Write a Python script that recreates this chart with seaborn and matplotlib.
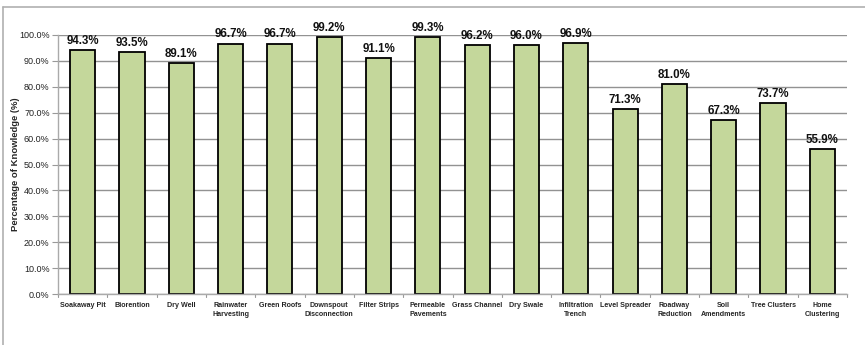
import matplotlib
matplotlib.use("Agg")
import matplotlib.pyplot as plt
import matplotlib.lines as mlines
from matplotlib.ticker import MultipleLocator, FuncFormatter
import seaborn as sns
import pandas as pd

categories = [
    "Soakaway Pit", "Biorention", "Dry Well", "Rainwater\nHarvesting",
    "Green Roofs", "Downspout\nDisconnection", "Filter Strips",
    "Permeable\nPavements", "Grass Channel", "Dry Swale",
    "Infiltration\nTrench", "Level Spreader", "Roadway\nReduction",
    "Soil\nAmendments", "Tree Clusters", "Home\nClustering",
]
knowledge = [94.3, 93.5, 89.1, 96.7, 96.7, 99.2, 91.1, 99.3, 96.2, 96.0,
             96.9, 71.3, 81.0, 67.3, 73.7, 55.9]

df = pd.DataFrame({"practice": categories, "pct": knowledge})

sns.set_theme(style="white")
plt.rcParams["font.family"] = ["Liberation Sans", "DejaVu Sans"]

fig = plt.figure(figsize=(8.65, 3.45), dpi=100)
ax = fig.add_axes([58 / 865, 1 - 294 / 345, (847 - 58) / 865, (294 - 35) / 345])

ax.set_axisbelow(True)
ax.yaxis.grid(True, color="#929292", linewidth=1.0)
ax.xaxis.grid(False)

sns.barplot(data=df, x="practice", y="pct", color="#c4d79b", saturation=1,
            width=0.51, edgecolor="black", linewidth=1.3, ax=ax)

ax.set_ylim(0, 100)
ax.set_xlim(-0.5, len(categories) - 0.5)
ax.yaxis.set_major_locator(MultipleLocator(10))
ax.yaxis.set_major_formatter(FuncFormatter(lambda v, p: f"{v:.1f}%"))
ax.tick_params(axis="y", labelsize=6.5, length=4, width=0.8,
               direction="out", pad=2, left=True,
               colors="#999999", labelcolor="#222222")

# category labels centred under bars, tick marks on slot boundaries
ax.set_xticks(range(len(categories)))
ax.set_xticklabels(categories, fontsize=5.1, fontweight="bold",
                   linespacing=1.3, va="top")
ax.tick_params(axis="x", length=0, pad=6)
for b in range(len(categories) + 1):
    ax.plot([b - 0.5, b - 0.5], [0, -1.3], color="#999999", linewidth=0.8,
            clip_on=False)

for side in ["top", "right"]:
    ax.spines[side].set_visible(False)
for side in ["left", "bottom"]:
    ax.spines[side].set_color("#aaaaaa")
    ax.spines[side].set_linewidth(1.0)

ax.set_xlabel("")
ax.set_ylabel("Percentage of Knowledge (%)", fontsize=6.8, fontweight="bold",
              labelpad=-1)

for i, v in enumerate(knowledge):
    ax.text(i, v + 1.2, f"{v:.1f}%", ha="center", va="bottom",
            fontsize=8.3, fontweight="bold", color="#111111")

# chart frame
fig.add_artist(mlines.Line2D([3 / 865, 3 / 865], [0, 1 - 7 / 345],
                             color="#b0b0b0", linewidth=1.2,
                             transform=fig.transFigure))
fig.add_artist(mlines.Line2D([3 / 865, 1], [1 - 7 / 345, 1 - 7 / 345],
                             color="#b0b0b0", linewidth=1.2,
                             transform=fig.transFigure))

fig.savefig("out.png", dpi=100, facecolor="white")
